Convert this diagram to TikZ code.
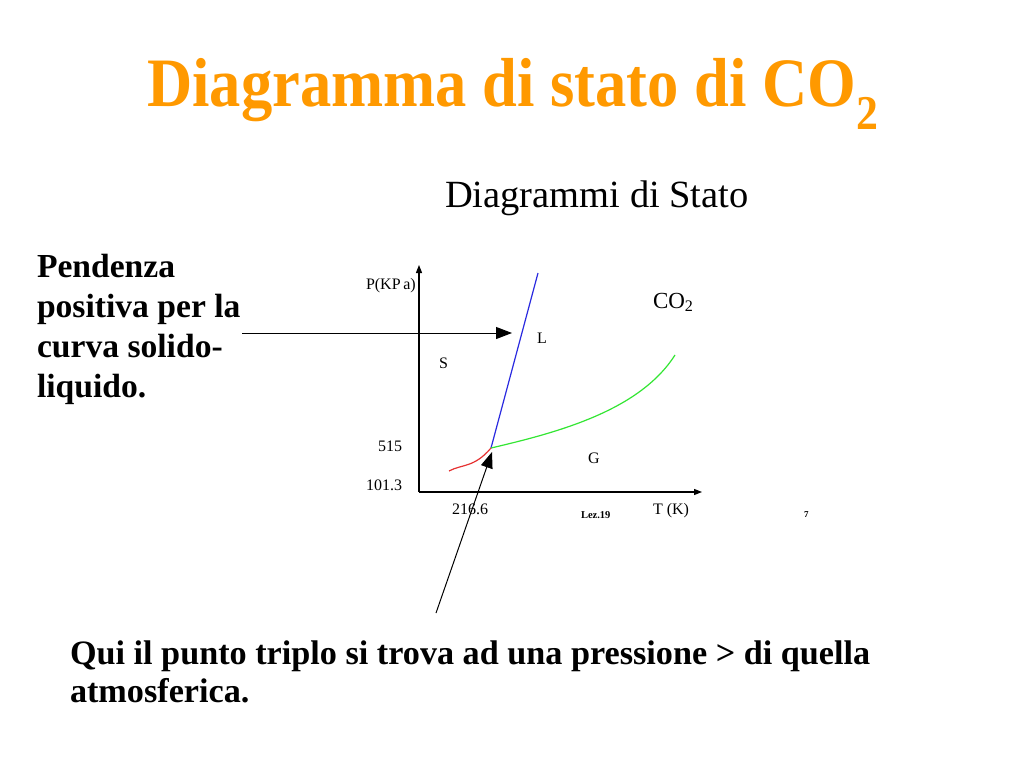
\documentclass[tikz,border=0pt]{standalone}
\usepackage{fontspec}
\setmainfont{Liberation Serif}
\usetikzlibrary{arrows.meta}
\definecolor{titleorange}{HTML}{FF9900}
\definecolor{curveblue}{HTML}{2A2AE0}
\definecolor{curvegreen}{HTML}{33E633}
\definecolor{curvered}{HTML}{E63333}
\tikzset{
  txt/.style={anchor=base west, inner sep=0pt, outer sep=0pt},
  boldtxt/.style={txt, font=\fontsize{33.6}{40}\selectfont\bfseries},
  bottomtxt/.style={txt, font=\fontsize{34.2}{40}\selectfont\bfseries},
  small/.style={txt, font=\fontsize{16}{18}\selectfont},
  axis/.style={line width=1.2pt, -{Triangle[length=8pt,width=6pt]}},
  pointer/.style={line width=1pt, -{Triangle[length=16pt,width=12pt]}}
}
\begin{document}
\begin{tikzpicture}[x=1pt,y=-1pt]
\useasboundingbox[fill=white] (0,0) rectangle (1024,768);
% title
\node[anchor=base, inner sep=0pt, text=titleorange, font=\fontsize{68}{80}\selectfont\bfseries] (title) at (513,106) {\scalebox{0.92}[1.02]{Diagramma di stato di CO\textsubscript{2}}};
\node[txt, font=\fontsize{38.5}{44}\selectfont] (sub) at (445,207) {Diagrammi di Stato};
% left text
\node[boldtxt] (l1) at (37,277) {Pendenza};
\node[boldtxt] (l2) at (37,317) {positiva per la};
\node[boldtxt] (l3) at (37,357) {curva solido-};
\node[boldtxt] (l4) at (37,397) {liquido.};
% bottom text
\node[bottomtxt] (b1) at (70,664) {Qui il punto triplo si trova ad una pressione > di quella};
\node[bottomtxt] (b2) at (70,702) {atmosferica.};
% axes
\coordinate (O) at (419,492);
\coordinate (ytop) at (419,265);
\coordinate (xend) at (702,492);
\draw[axis] (O) -- (ytop);
\draw[axis] (O) -- (xend);
% labels
\node[small] (plab) at (366,289) {P(KP\,a)};
\node[small] (p515) at (378,451) {515};
\node[small] (p101) at (366,490) {101.3};
\node[small] (t216) at (452,514) {216.6};
\node[txt, font=\fontsize{10.5}{12}\selectfont\bfseries] (lez) at (581,518) {Lez.19};
\node[small] (tlab) at (653,514) {T (K)};
\node[txt, font=\fontsize{9}{10}\selectfont\bfseries] (pg) at (804,517) {7};
\node[txt, font=\fontsize{23}{25}\selectfont] (co2) at (653,308) {CO\textsubscript{2}};
\node[small] (L) at (537,343) {L};
\node[small] (S) at (439,368) {S};
\node[small] (G) at (588,463) {G};
% curves
\coordinate (T) at (491,448);
\coordinate (bluetop) at (538,273);
\coordinate (greenend) at (675,355);
\coordinate (redstart) at (449,471);
\draw[curveblue, line width=1.2pt] (T) -- (bluetop);
\draw[curvegreen, line width=1.2pt] (T) .. controls (560,432) and (640,410) .. (greenend);
\draw[curvered, line width=1.2pt] (redstart) .. controls (462,464) and (474,468) .. (T);
% pointer arrows
\coordinate (a1s) at (242,333);
\coordinate (a1e) at (512,333);
\draw[pointer] (a1s) -- (a1e);
\coordinate (a2s) at (436,613);
\coordinate (a2e) at (492,452);
\draw[pointer] (a2s) -- (a2e);
\end{tikzpicture}
\end{document}
